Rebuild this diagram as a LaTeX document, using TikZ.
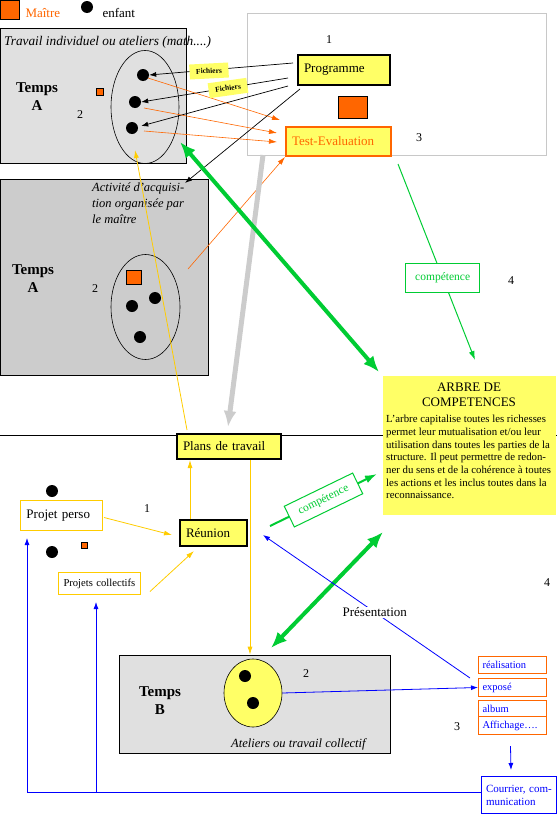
\documentclass[tikz,border=0pt]{standalone}
\usepackage{fontspec}
\setmainfont{Liberation Serif}
\usetikzlibrary{arrows.meta,shapes.geometric,calc}
\definecolor{yel}{HTML}{FFFF66}
\definecolor{org}{HTML}{FF6600}
\definecolor{grn}{HTML}{00CC33}
\definecolor{gld}{HTML}{FFCC00}
\definecolor{blu}{HTML}{0000FF}
\definecolor{lgray}{HTML}{E0E0E0}
\definecolor{mgray}{HTML}{CCCCCC}
\definecolor{bgray}{HTML}{C8C8C8}
\newcommand{\fsz}[2]{\fontsize{#1}{#2}\selectfont}
\begin{document}
\begin{tikzpicture}[x=1pt,y=-1pt,
  every node/.style={font=\fsz{13}{15}},
  dot/.style={circle,fill=black,inner sep=0,minimum size=12},
  osq/.style={draw=black,fill=org,line width=0.6pt},
  numlbl/.style={font=\fsz{12}{14}},
  tempslbl/.style={font=\bfseries\fsz{15}{18},align=center},
  ell/.style={draw,ellipse,inner sep=0,line width=0.6pt},
  cbox/.style={anchor=north west,inner xsep=5,inner ysep=0,align=left},
  ybox/.style={cbox,draw=black,fill=yel,line width=2pt},
  gbox/.style={cbox,draw=gld,fill=white,line width=1pt},
  rbox/.style={cbox,draw=org,fill=white,line width=1pt,text=blu,font=\fsz{10.5}{12},inner xsep=4},
  note/.style={fill=yel,inner sep=1.5,minimum width=39,minimum height=15,font=\bfseries\fsz{7.5}{8}},
  blk/.style={-{Latex[length=7,width=5]},line width=0.7pt},
  oar/.style={org,-{Latex[length=8,width=5]},line width=0.6pt},
  gar/.style={gld,-{Latex[length=8,width=5]},line width=0.8pt},
  bar/.style={blu,-{Latex[length=7,width=5]},line width=0.8pt},
  bigg/.style={grn,line width=4pt,{Latex[length=16,width=13]}-{Latex[length=16,width=13]}},
]
\useasboundingbox (0,0) rectangle (557,814);

% ---------- legend
\filldraw[osq] (0,0) rectangle (19,19);
\node[anchor=base west,text=org] (lmaitre) at (22,17) {Maître};
\node[dot] (ldot) at (87,7) {};
\node[anchor=base west] (lenfant) at (99,17) {enfant};

% ---------- box 1
\draw[fill=lgray,line width=0.8pt] (0,28) rectangle (186,163);
\node[anchor=base west,font=\itshape\fsz{13.3}{15},inner sep=0] (trav) at (4,45) {Travail individuel ou ateliers (math....)};
\node[tempslbl] (tA1) at (37,97) {Temps\\A};
\node[numlbl] (n2a) at (80,115) {2};
\filldraw[osq] (96,88) rectangle (103,95);
\node[ell,minimum width=68,minimum height=113] (e1) at (145,107) {};
\node[dot] (d1) at (143,75) {};
\node[dot] (d2) at (135,102) {};
\node[dot] (d3) at (132,128) {};

% ---------- box 2
\draw[fill=mgray,line width=0.8pt] (0,179) rectangle (208,375);
\node[anchor=north west,font=\itshape\fsz{12.5}{16},align=left,inner sep=0] (act) at (92,183) {Activité d’acquisi-\\tion organisée par\\le maître};
\node[tempslbl] (tA2) at (33,279) {Temps\\A};
\node[numlbl] (n2b) at (95,289) {2};
\node[ell,minimum width=69,minimum height=105] (e2) at (145.5,307) {};
\filldraw[osq] (126,270) rectangle (141,284);
\node[dot] (d4) at (132,306) {};
\node[dot] (d5) at (155,298) {};
\node[dot] (d6) at (140,337) {};

% ---------- top right box
\draw[bgray,line width=1pt] (247,13) rectangle (546,155);
\node[numlbl] (n1a) at (329,40) {1};
\node[ybox,minimum width=92,minimum height=30,text width=80] (prog) at (297,54) {Programme};
\filldraw[osq] (338,96) rectangle (367,118);
\node[ybox,draw=org,text=org,minimum width=105,minimum height=29,text width=93] (test) at (285,126) {Test-Evaluation};
\node[numlbl] (n3a) at (419,138) {3};

% ---------- separator line
\draw[line width=0.8pt] (0,435) -- (557,435);

% ---------- arbre
\node[fill=yel,minimum width=173,minimum height=139,anchor=north west,inner sep=0] (arbre) at (383,376) {};
\node[anchor=north,align=center,inner sep=0] (arbtitle) at (469,383) {ARBRE DE\\COMPETENCES};
\node[anchor=north west,align=left,inner sep=0,font=\fsz{10.8}{12.7}] (arbtext) at (386,415) {L’arbre capitalise toutes les richesses\\permet leur mutualisation et/ou leur\\utilisation dans toutes les parties de la\\structure. Il peut permettre de redon-\\ner du sens et de la cohérence à toutes\\les actions et les inclus toutes dans la\\reconnaissance.};
\node[numlbl] (n4a) at (511,281) {4};

% ---------- lower left
\node[ybox,minimum width=104,minimum height=25,text width=92] (plans) at (176,433) {Plans de travail};
\node[ybox,minimum width=67,minimum height=26,text width=55] (reun) at (179,519) {Réunion};
\node[numlbl] (n1b) at (147,509) {1};
\node[dot] (p1) at (52,491) {};
\node[dot] (p2) at (52,552) {};
\filldraw[osq] (81,542) rectangle (87,548);
\node[gbox,minimum width=82,minimum height=30,text width=70] (perso) at (20,500) {Projet perso};
\node[gbox,minimum width=82,minimum height=22,text width=72,font=\fsz{10.6}{12},inner xsep=4] (coll) at (58,572) {Projets collectifs};

% ---------- Temps B
\draw[fill=lgray,line width=0.8pt] (119,655) rectangle (390,753);
\node[tempslbl] (tB) at (160,701) {Temps\\B};
\node[numlbl] (n2c) at (306,674) {2};
\node[ell,fill=yel,minimum width=58,minimum height=68] (e3) at (253,693) {};
\node[dot] (d7) at (245,676) {};
\node[dot] (d8) at (253,703) {};
\node[anchor=base west,font=\itshape\fsz{12.5}{15},inner sep=0] (atel) at (231,747) {Ateliers ou travail collectif};

% ---------- right boxes
\node[rbox,minimum width=68,minimum height=17,text width=60] (real) at (478,656) {réalisation};
\node[rbox,minimum width=68,minimum height=18,text width=60] (expo) at (478,678) {exposé};
\node[rbox,minimum width=68,minimum height=16,text width=60] (album) at (478,700) {album};
\node[rbox,minimum width=68,minimum height=18,text width=60] (affi) at (478,716) {Affichage….};
\node[numlbl] (n3b) at (457,727) {3};
\node[numlbl] (n4b) at (547,583) {4};
\node[cbox,draw=blu,fill=white,line width=1pt,text=blu,font=\fsz{11}{13},minimum width=75,minimum height=37,text width=66,inner xsep=4] (cour) at (481,776) {Courrier, com-\\munication};

% ---------- coordinates for connector ends
\coordinate (pA) at (293,63);
\coordinate (pB) at (288,78);
\coordinate (pC) at (288,86);
\coordinate (pD) at (300,89);
\coordinate (actTip) at (185,183);
\coordinate (tA) at (280,120);
\coordinate (tB) at (277,133);
\coordinate (tC) at (277,142);
\coordinate (o1) at (148,78);
\coordinate (o2) at (144,108);
\coordinate (o3) at (144,131);
\coordinate (o4) at (188,269);
\coordinate (gTop) at (180,142);
\coordinate (gBot) at (379,372);
\coordinate (cStart) at (398,164);
\coordinate (cEnd) at (475,360);
\coordinate (grayS) at (263,155);
\coordinate (grayE) at (228,427);
\coordinate (goldE) at (135,150);
\coordinate (reunTip) at (263,535);
\coordinate (presS) at (470,678);
\coordinate (g2a) at (271,648);
\coordinate (g2b) at (383,532);
\coordinate (c2s) at (270,526);
\coordinate (c2e) at (377,474);
\coordinate (bl) at (27,792);
\coordinate (bm) at (96,792);
\coordinate (blTip) at (27,538);
\coordinate (bmTip) at (96,602);

% ---------- black arrows from Programme
\draw[blk] (pA) -- (d1.east);
\draw[blk] (pB) -- (d2.east);
\draw[blk] (pC) -- ($(d3.east)+(3,-2)$);
\draw[blk] (pD) -- (actTip);

% ---------- orange arrows to Test-Evaluation
\draw[oar] (o1) -- (tA);
\draw[oar] (o2) -- (tB);
\draw[oar] (o3) -- (tC);
\draw[oar] (o4) -- (test.south west);

% notes "Fichiers"
\node[note,rotate=3] (f1) at (209,71) {Fichiers};
\node[note,rotate=8] (f2) at (228,88) {Fichiers};

% ---------- gray arrow
\draw[mgray,line width=5pt,-{Latex[length=16,width=13]}] (grayS) -- (grayE);

% ---------- gold arrows
\draw[gar] ($(plans.north west)+(11,-3)$) -- (goldE);
\draw[gar] (reun.north -| 190,0) -- (plans.south -| 190,0);
\draw[gar] (plans.south -| 250,0) -- ($(e3.north)+(-3,-4)$);
\draw[gar] ($(perso.east)+(1,2)$) -- ($(reun.west)+(-7,2)$);
\draw[gar] ($(coll.east)+(9,8)$) -- ($(reun.south west)+(15,4)$);

% ---------- green arrows
\draw[bigg] (gTop) -- (gBot);
\draw[grn,line width=1pt,-{Latex[length=9,width=6]}] (cStart) -- node[pos=0.58,draw=grn,fill=white,text=grn,line width=1pt,minimum width=74,minimum height=29,font=\fsz{11.5}{13},inner sep=0] (comp1) {compétence} (cEnd);
\draw[bigg] (g2a) -- (g2b);
\draw[grn,line width=2pt,-{Latex[length=12,width=8]}] (c2s) -- node[pos=0.5,sloped,draw=grn,fill=white,text=grn,line width=1pt,minimum width=76,minimum height=23,font=\fsz{11.5}{13},inner sep=0] (comp2) {compétence} (c2e);

% ---------- blue arrows
\draw[bar] (presS) -- node[pos=0.46,fill=white,text=black,inner xsep=2,inner ysep=1] (pres) {Présentation} (reunTip);
\draw[bar] (e3.east) -- (expo.west);
\draw[bar] ($(affi.south)+(-2,11)$) -- ($(cour.north)+(-8,-6)$);
\draw[blu,line width=0.8pt] (cour.west |- bl) -- (bl);
\draw[bar] (bl) -- (blTip);
\draw[bar] (bm) -- (bmTip);

\end{tikzpicture}
\end{document}
